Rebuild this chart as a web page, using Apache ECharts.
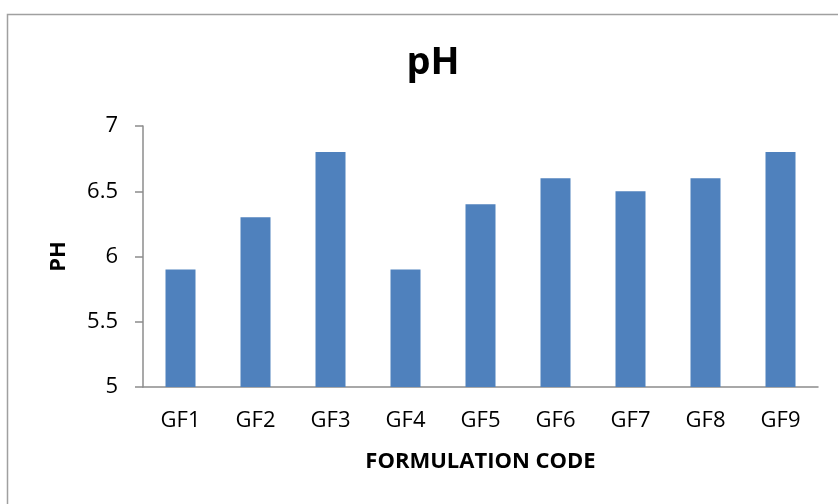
<!DOCTYPE html>
<html>
<head>
<meta charset="utf-8">
<script src="https://cdn.jsdelivr.net/npm/echarts@6/dist/echarts.min.js"></script>
<style>
  html, body { margin: 0; padding: 0; background: #fff; }
  #chart { width: 838px; height: 504px; }
</style>
</head>
<body>
<div id="chart"></div>
<script>
// Formulation codes and their measured pH
const categories = ['GF1', 'GF2', 'GF3', 'GF4', 'GF5', 'GF6', 'GF7', 'GF8', 'GF9'];
const phValues = [5.9, 6.3, 6.8, 5.9, 6.4, 6.6, 6.5, 6.6, 6.8];
const yMin = 5, yMax = 7, yStep = 0.5;

const font = '"Open Sans", "Liberation Sans", sans-serif';
const chart = echarts.init(document.getElementById('chart'));
chart.setOption({
  animation: false,
  backgroundColor: '#ffffff',
  graphic: [{
    type: 'rect',
    shape: { x: 7.5, y: 14.5, width: 900, height: 600 },
    style: { fill: 'none', stroke: '#a0a0a0', lineWidth: 1.5 },
    silent: true
  }],
  title: {
    text: 'pH',
    left: 428, top: 39,
    textAlign: 'center',
    textStyle: { fontFamily: font, fontWeight: 'bold', fontSize: 38, color: '#000' }
  },
  grid: { left: 143, right: 20, top: 126, bottom: 117 },
  xAxis: {
    type: 'category',
    data: categories,
    name: 'FORMULATION CODE',
    nameLocation: 'middle',
    nameGap: 64,
    nameTextStyle: { fontFamily: font, fontWeight: 'bold', fontSize: 22, color: '#000' },
    axisLine: { lineStyle: { color: '#8c8c8c', width: 1.5 } },
    axisTick: { show: false },
    axisLabel: { fontFamily: font, fontSize: 22, color: '#000', margin: 23 }
  },
  yAxis: {
    type: 'value',
    min: yMin, max: yMax, interval: yStep,
    name: 'PH',
    nameLocation: 'middle',
    nameGap: 73,
    nameRotate: 90,
    nameTextStyle: { fontFamily: font, fontWeight: 'bold', fontSize: 22, color: '#000' },
    axisLine: { show: true, lineStyle: { color: '#8c8c8c', width: 1.5 } },
    axisTick: { show: true, length: 8, lineStyle: { color: '#8c8c8c', width: 1.5 } },
    splitLine: { show: false },
    axisLabel: { fontFamily: font, fontSize: 22, color: '#000', margin: 25 }
  },
  series: [{
    type: 'bar',
    data: phValues,
    barWidth: 30,
    itemStyle: { color: '#4f81bd' }
  }]
});
</script>
</body>
</html>
